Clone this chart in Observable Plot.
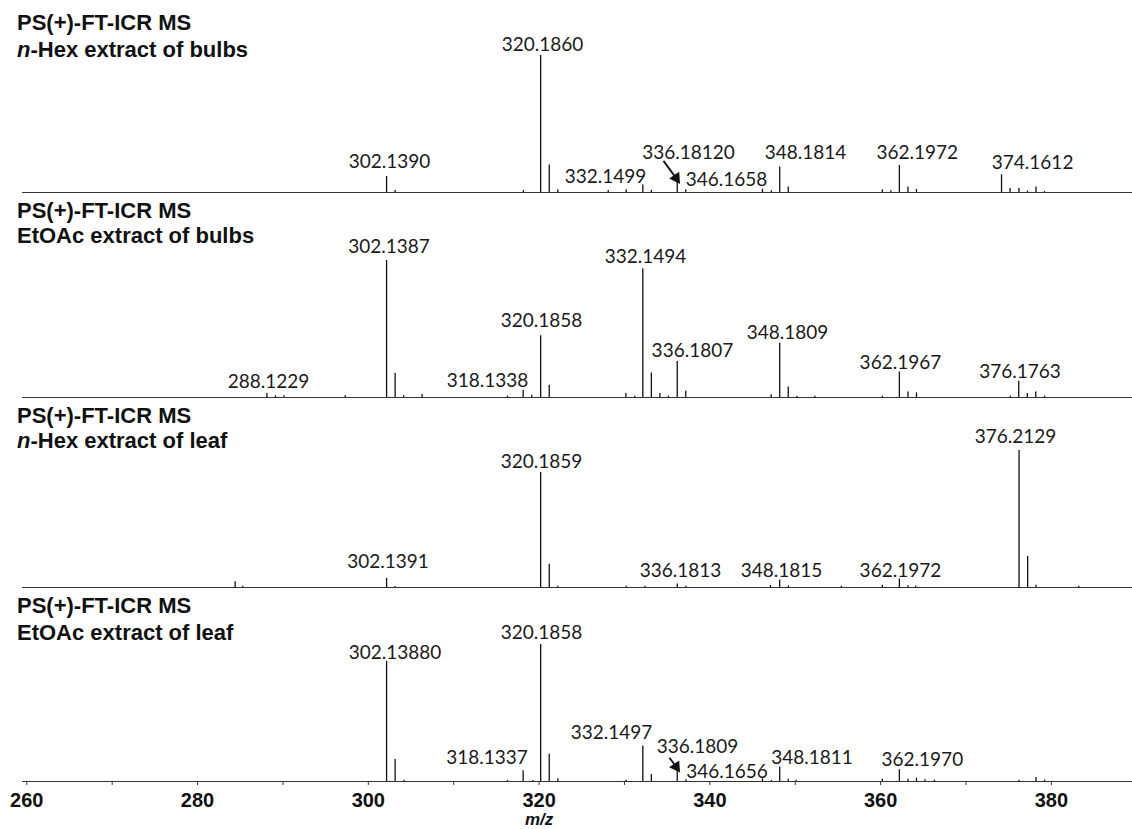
<!DOCTYPE html>
<html>
<head>
<meta charset="utf-8">
<script src="https://cdn.jsdelivr.net/npm/d3@7"></script>
<script src="https://cdn.jsdelivr.net/npm/@observablehq/plot@0.6"></script>
<style>
  body { margin: 0; background: #fff; }
  #chart { position: relative; width: 1132px; height: 829px; overflow: hidden; background: #fff; }
  .panel { position: absolute; left: 0; }
  .title { position: absolute; left: 17px; font: bold 22px "Liberation Sans", Arial, sans-serif; color: #111; white-space: nowrap; line-height: 22px; z-index: 2; }
</style>
</head>
<body>
<div id="chart"></div>
<script>
// ---------- data ----------
const xTicks = [260, 270, 280, 290, 300, 310, 320, 330, 340, 350, 360, 370, 380];
const xLabel = "m/z";

const titleLine1 = ["PS(+)-FT-ICR MS", "PS(+)-FT-ICR MS", "PS(+)-FT-ICR MS", "PS(+)-FT-ICR MS"];
const titleLine2 = ["n-Hex extract of bulbs", "EtOAc extract of bulbs", "n-Hex extract of leaf", "EtOAc extract of leaf"];

// peaks: [m/z, relative intensity %]
const hexBulbPeaks = [
  [302.139, 11.7], [303.14, 1.5], [318.17, 1.5], [320.186, 100], [321.189, 20], [322.19, 2],
  [328.1, 1.5], [330.2, 2], [332.1499, 5.4], [333.15, 1.5], [336.1812, 8], [337.18, 2],
  [346.1658, 2.4], [347.2, 1.2], [348.1814, 18.7], [349.18, 4], [360.2, 2], [361.2, 1.2],
  [362.1972, 19.7], [363.2, 4], [364.2, 2.2], [374.1612, 12.9], [375.16, 3], [376.2, 3],
  [377.2, 1], [378.2, 4], [379.2, 0.7]
];
const etoacBulbPeaks = [
  [288.1229, 3], [289.13, 1.2], [290.13, 1.2], [297.3, 1.2], [302.1387, 100], [303.14, 17.5],
  [304.14, 1.2], [306.3, 2.2], [316.3, 1], [318.1338, 5.3], [319.14, 1.7], [320.1858, 45],
  [321.19, 9], [330.17, 2.9], [331.2, 1], [332.1494, 94], [333.15, 17.9], [334.15, 2.9],
  [335.15, 1], [336.1807, 26.3], [337.18, 4.6], [347.18, 2], [348.1809, 39.6], [349.18, 7.7],
  [350.2, 1], [352.3, 1], [360.2, 1], [362.1967, 18.6], [363.2, 4.1], [364.2, 3.4],
  [375.2, 1], [376.1763, 11.8], [377.18, 2.9], [378.17, 4.1], [379.2, 1]
];
const hexLeafPeaks = [
  [284.4, 4.2], [285.3, 1], [302.1391, 6.7], [303.14, 0.8], [320.1859, 84], [321.19, 17],
  [322.2, 1], [330.2, 1], [332.4, 1], [336.1813, 2.5], [337.2, 1], [347.1, 1.5],
  [348.1815, 5.4], [349.2, 1.2], [355.4, 1], [360.2, 1.7], [362.1972, 6.2], [363.2, 1.2],
  [364.1, 1], [376.2129, 100], [377.22, 22.7], [378.2, 1.7], [383.2, 1]
];
const etoacLeafPeaks = [
  [302.1388, 87.7], [303.14, 16], [304.2, 1], [316.3, 0.7], [318.1337, 7.9], [319.3, 0.7],
  [320.1858, 100], [321.19, 19.8], [322.2, 2], [330.2, 1], [332.1497, 26], [333.15, 5],
  [336.1809, 9.9], [337.2, 1.2], [346.1656, 2], [347.2, 0.7], [348.1811, 10.6], [349.18, 1.7],
  [350.1, 1], [360.2, 1.7], [362.197, 8.6], [363.2, 1.7], [364.2, 2.5], [365.2, 1.2],
  [366.3, 1], [376.2, 1], [378.2, 3], [379.2, 1]
];

// peak labels: [text, label centre m/z, label baseline intensity %]
const hexBulbLabels = [
  ["302.1390", 302.48, 18], ["320.1860", 320.40, 103.4], ["332.1499", 327.78, 7.1],
  ["336.18120", 337.50, 24.6], ["346.1658", 341.95, 4.9], ["348.1814", 351.2, 24.6],
  ["362.1972", 364.3, 24.6], ["374.1612", 377.8, 17.3]
];
const etoacBulbLabels = [
  ["288.1229", 288.31, 6.8], ["302.1387", 302.42, 105.3], ["318.1338", 313.96, 7.5],
  ["320.1858", 320.29, 51.3], ["332.1494", 332.46, 98.3], ["336.1807", 337.96, 29.4],
  ["348.1809", 349.09, 42.8], ["362.1967", 362.32, 21], ["376.1763", 376.33, 14.5]
];
const hexLeafLabels = [
  ["302.1391", 302.31, 14.1], ["320.1859", 320.28, 87.1], ["336.1813", 336.56, 7.9],
  ["348.1815", 348.39, 7.9], ["362.1972", 362.32, 7.9], ["376.2129", 375.8, 105.3]
];
const etoacLeafLabels = [
  ["302.13880", 303.12, 89.6], ["318.1337", 313.91, 12.9], ["320.1858", 320.28, 104.2],
  ["332.1497", 328.48, 30.8], ["336.1809", 338.55, 20.9], ["346.1656", 342.0, 2.5],
  ["348.1811", 351.97, 12.9], ["362.1970", 364.89, 11.5]
];

// arrows: [from m/z, from %, to m/z, to %]
const hexBulbArrows = [[334.57, 23.1, 336.05, 10.5]];
const etoacBulbArrows = [];
const hexLeafArrows = [];
const etoacLeafArrows = [[335.27, 17.3, 336.05, 10.8]];

// ---------- layout ----------
const W = 1132;
const baselines = [191.7, 397.3, 587.3, 780.7];
const titleBaselines = [[30, 57], [218, 243], [423, 448], [613, 640]];
const peakPx = 137, mt = 40;

const panels = [
  [hexBulbPeaks, hexBulbLabels, hexBulbArrows],
  [etoacBulbPeaks, etoacBulbLabels, etoacBulbArrows],
  [hexLeafPeaks, hexLeafLabels, hexLeafArrows],
  [etoacLeafPeaks, etoacLeafLabels, etoacLeafArrows]
];

const chart = document.getElementById("chart");

panels.forEach(([peaks, labels, arrows], i) => {
  const last = i === panels.length - 1;
  const mb = last ? 829 - baselines[i] : 3;
  const H = mt + peakPx + mb;
  const pk = peaks.map(([mz, v]) => ({mz, v}));
  const lb = labels.map(([t, x, y]) => ({t, x, y}));
  const ar = arrows.map(([x1, y1, x2, y2]) => ({x1, y1, x2, y2}));
  const marks = [
    Plot.ruleY([0], {stroke: "#333", strokeWidth: 1.2}),
    Plot.ruleX(pk, {x: "mz", y1: 0, y2: "v", stroke: "#111", strokeWidth: 1.3}),
    Plot.text(lb, {x: "x", y: "y", text: "t", lineAnchor: "bottom", fontFamily: "Lato", fontSize: 19, fill: "#1a1a1a"}),
    Plot.link(ar, {x1: "x1", y1: "y1", x2: "x2", y2: "y2", stroke: "#111", strokeWidth: 1.8}),
    Plot.dot(ar, {x: "x2", y: "y2", symbol: "triangle", r: 4.5, fill: "#111", stroke: "none", rotate: 146})
  ];
  if (last) {
    marks.push(Plot.axisX({ticks: xTicks, tickSize: 4, tickPadding: 7,
      tickFormat: d => d % 20 === 0 ? String(d) : "",
      fontSize: 20, fontWeight: "bold", fontFamily: "Liberation Sans, Arial, sans-serif", stroke: "#333"}));
    marks.push(Plot.text([{x: 320, t: xLabel}], {x: "x", text: "t", frameAnchor: "bottom", lineAnchor: "bottom", dy: 44,
      fontSize: 17, fontWeight: "bold", fontStyle: "italic", fontFamily: "Liberation Sans, Arial, sans-serif", fill: "#111"}));
  }
  const svg = Plot.plot({
    width: W, height: H,
    marginTop: mt, marginBottom: mb, marginLeft: 22, marginRight: 0,
    x: {domain: [259.5, 389.5], axis: null},
    y: {domain: [0, 100], axis: null},
    style: {background: "transparent", overflow: "visible", color: "#111"},
    marks
  });
  const holder = document.createElement("div");
  holder.className = "panel";
  holder.style.top = (baselines[i] - peakPx - mt) + "px";
  holder.appendChild(svg);
  chart.appendChild(holder);

  // titles
  [titleLine1[i], titleLine2[i]].forEach((t, j) => {
    const d = document.createElement("div");
    d.className = "title";
    d.style.top = (titleBaselines[i][j] - 18) + "px";
    if (t.startsWith("n-")) {
      const it = document.createElement("i");
      it.textContent = "n";
      d.appendChild(it);
      d.appendChild(document.createTextNode(t.slice(1)));
    } else {
      d.textContent = t;
    }
    chart.appendChild(d);
  });
});
</script>
</body>
</html>
